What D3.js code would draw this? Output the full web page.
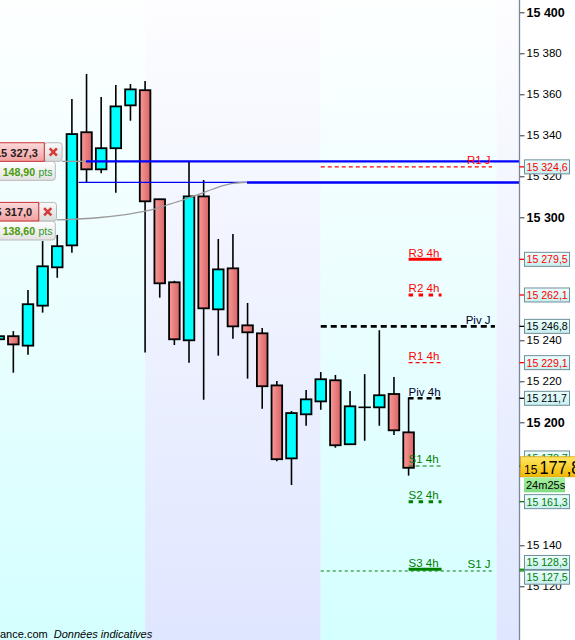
<!DOCTYPE html>
<html><head><meta charset="utf-8">
<script src="https://cdn.jsdelivr.net/npm/d3@7"></script>
<style>
body{margin:0;overflow:hidden;background:#fff}
svg{display:block}
text{font-family:"Liberation Sans",Arial,sans-serif}
</style>
</head><body>
<svg id="c" width="575" height="640"></svg>
<script>
// ---------------- data ----------------
const opens  = [15240.5,15242.0,15237.4,15256.9,15275.6,15286.3,15341.5,15323.4,15333.7,15354.6,15362.0,15308.8,15268.3,15240.0,15310.2,15255.1,15275.1,15247.3,15243.4,15218.0,15182.4,15203.9,15210.2,15220.5,15189.3,15207.3,15207.3,15213.8,15195.1];
const highs  = [15243.0,15244.5,15264.5,15288.4,15291.4,15357.7,15369.9,15358.7,15364.5,15365.0,15366.5,15309.0,15269.0,15327.5,15318.2,15289.4,15291.9,15258.2,15246.0,15220.1,15205.5,15215.8,15224.5,15223.1,15215.3,15223.5,15244.9,15222.1,15212.2];
const lows   = [15238.0,15224.2,15233.0,15253.5,15270.5,15282.7,15317.2,15321.5,15312.0,15347.1,15234.0,15260.8,15237.7,15229.1,15211.0,15232.5,15240.8,15221.3,15206.6,15181.0,15169.4,15198.3,15206.1,15187.6,15189.3,15191.0,15198.3,15193.8,15174.0];
const closes = [15242.0,15238.0,15257.6,15276.1,15285.9,15340.6,15323.4,15333.7,15354.1,15362.4,15307.8,15267.8,15240.5,15310.2,15255.6,15274.6,15246.8,15243.9,15217.6,15182.0,15204.5,15211.2,15221.0,15188.8,15207.8,15207.3,15213.2,15196.1,15177.8];

const sessionBreaks = [10, 22, 34];            // candle index where background alternates

const levelNames  = ["R1 J","Piv J","S1 J","R3 4h","R2 4h","R1 4h","Piv 4h","S1 4h","S2 4h","S3 4h"];
const levelValues = [15324.6,15246.8,15127.5,15279.5,15262.1,15229.1,15211.7,15178.7,15161.3,15128.3];

const tickValues = [15400,15380,15360,15340,15320,15300,15240,15220,15200,15140,15120];

const alertPrices = [15327.3, 15317.0];
const alertPts    = [148.90, 138.60];
const alertStartIdx = [5.96, 16.96];           // where the thick line starts

const curveIdx  = [3.96, 6.92, 9.17, 10.33, 11.5, 12.38, 13.75, 14.64, 15.80, 16.96];
const curveVals = [15298.7,15299.9,15301.95,15303.5,15306.0,15307.95,15311.4,15313.8,15316.3,15317.1];

const lastPrice = 15177.8;
const timerText = "24m25s";

// ---------------- setup ----------------
const W = 575, H = 640, axisX = 519.5;
const svg = d3.select("#c");
const x = d3.scaleLinear().domain([0, 28]).range([-1.3, 408.6]);
const y = d3.scaleLinear().domain([15400, 15120]).range([12.3, 586.3]);
const loc = d3.formatLocale({decimal: ",", thousands: " ", grouping: [3], currency: ["", ""]});
const fInt = loc.format(",d"), f1 = loc.format(",.1f"), f2 = loc.format(",.2f");

const defs = svg.append("defs");
function grad(id, stops, horiz) {
  const g = defs.append("linearGradient").attr("id", id)
    .attr("x1", 0).attr("y1", 0).attr("x2", horiz ? 1 : 0).attr("y2", horiz ? 0 : 1);
  stops.forEach((c, i) => g.append("stop").attr("offset", i / (stops.length - 1)).attr("stop-color", c));
}
grad("bgC", ["#fdffff", "#eafeff", "#d4ffff"]);
grad("bgL", ["#fdfdff", "#eef2ff", "#dfe6ff"]);
grad("redB", ["#f99a9a", "#d86464"], true);
grad("boxF", ["#eeffff", "#c8eeee"]);
grad("curF", ["#ffe866", "#f2b800"]);
grad("timF", ["#a8f0a0", "#80dc80"]);
grad("tagR", ["#fcdada", "#f2a0a0"]);
grad("tagG", ["#ffffff", "#e2e2e2"]);
grad("tagX", ["#fafafa", "#dadada"]);

// ---------------- background ----------------
const bx = [-50, ...sessionBreaks.map(x), axisX];
for (let i = 0; i < bx.length - 1; i++) {
  svg.append("rect").attr("x", bx[i]).attr("y", 0).attr("width", bx[i + 1] - bx[i]).attr("height", H)
    .attr("fill", i % 2 === 0 ? "url(#bgC)" : "url(#bgL)");
}

// ---------------- candles ----------------
const bw = 10.6;
const cg = svg.append("g");
const idx = d3.range(opens.length);
cg.selectAll("line.w").data(idx).join("line")
  .attr("x1", i => x(i)).attr("x2", i => x(i))
  .attr("y1", i => y(highs[i])).attr("y2", i => y(lows[i]))
  .attr("stroke", "#000").attr("stroke-width", 1.6);
cg.selectAll("rect.b").data(idx.filter(i => opens[i] !== closes[i])).join("rect")
  .attr("x", i => x(i) - bw / 2).attr("width", bw)
  .attr("y", i => y(Math.max(opens[i], closes[i])))
  .attr("height", i => Math.abs(y(opens[i]) - y(closes[i])))
  .attr("fill", i => closes[i] > opens[i] ? "#00ffff" : "url(#redB)")
  .attr("stroke", "#000").attr("stroke-width", 1.8);
cg.selectAll("line.d").data(idx.filter(i => opens[i] === closes[i])).join("line")
  .attr("x1", i => x(i) - bw / 2 - 0.9).attr("x2", i => x(i) + bw / 2 + 0.9)
  .attr("y1", i => y(opens[i])).attr("y2", i => y(opens[i]))
  .attr("stroke", "#000").attr("stroke-width", 1.6);

// ---------------- alert lines ----------------
const blue = "#0000ff";
svg.append("line").attr("x1", x(5.46)).attr("x2", x(alertStartIdx[1]))
  .attr("y1", y(alertPrices[1])).attr("y2", y(alertPrices[1]))
  .attr("stroke", blue).attr("stroke-width", 1.2);
alertPrices.forEach((p, k) => {
  svg.append("line").attr("x1", x(alertStartIdx[k])).attr("x2", axisX)
    .attr("y1", y(p)).attr("y2", y(p)).attr("stroke", blue).attr("stroke-width", 2.4);
});
const curveLine = d3.line().x(d => x(d[0])).y(d => y(d[1])).curve(d3.curveMonotoneX);
svg.append("path").attr("d", curveLine(curveIdx.map((c, i) => [c, curveVals[i]])))
  .attr("fill", "none").attr("stroke", "#9a9a9a").attr("stroke-width", 1.3);
svg.append("line").attr("x1", 62).attr("x2", x(alertStartIdx[0]))
  .attr("y1", y(alertPrices[0])).attr("y2", y(alertPrices[0]))
  .attr("stroke", "#9a9a9a").attr("stroke-width", 1.3);

// ---------------- pivot levels ----------------
const RED = "#ff0000", GRN = "#008000", PIV = "#000030";
const style = {
  "R1 J":  {c: RED, w: 1.1, d: "4,3", s: 22, e: 33.7, tc: RED},
  "Piv J": {c: "#000", w: 2.6, d: "6,4", s: 22, e: 33.9, tc: PIV},
  "S1 J":  {c: GRN, w: 1.1, d: "3,3", s: 22, e: 33.7, tc: GRN},
  "R3 4h": {c: RED, w: 3, d: null, s: 28, e: 30.25, tc: RED},
  "R2 4h": {c: RED, w: 3, d: "4.5,5.5", s: 28, e: 30.25, tc: RED},
  "R1 4h": {c: RED, w: 1.1, d: "4,3", s: 28, e: 30.25, tc: RED},
  "Piv 4h":{c: "#000", w: 2.6, d: "5,4", s: 28, e: 30.25, tc: PIV},
  "S1 4h": {c: GRN, w: 1.1, d: "4,3", s: 28, e: 30.25, tc: GRN},
  "S2 4h": {c: GRN, w: 3, d: "4.5,5.5", s: 28, e: 30.25, tc: GRN},
  "S3 4h": {c: GRN, w: 3, d: null, s: 28, e: 30.25, tc: GRN}
};
levelNames.forEach((n, i) => {
  const st = style[n], yy = y(levelValues[i]);
  svg.append("line").attr("x1", x(st.s)).attr("x2", x(st.e)).attr("y1", yy).attr("y2", yy)
    .attr("stroke", st.c).attr("stroke-width", st.w).attr("stroke-dasharray", st.d);
  const isJ = n.endsWith("J");
  svg.append("text").attr("x", isJ ? x(33.6) : x(st.s)).attr("y", yy - 2.6)
    .attr("text-anchor", isJ ? "end" : "start")
    .attr("font-size", 11.5).attr("fill", st.tc).text(n);
});

// ---------------- right axis ----------------
svg.append("rect").attr("x", axisX).attr("y", 0).attr("width", W - axisX).attr("height", H).attr("fill", "#fff");
const ax = svg.append("g").attr("transform", `translate(${axisX},0)`)
  .call(d3.axisRight(y).tickValues(tickValues).tickSize(5).tickPadding(2).tickFormat(fInt));
ax.select(".domain").remove();
ax.selectAll(".tick line").attr("stroke", "#333");
ax.selectAll(".tick text").attr("fill", "#000")
  .attr("font-family", '"Liberation Sans",Arial,sans-serif')
  .attr("font-size", d => d % 100 === 0 ? 12.5 : 11.5)
  .attr("font-weight", d => d % 100 === 0 ? "bold" : "normal");
svg.append("line").attr("x1", axisX).attr("x2", axisX).attr("y1", 0).attr("y2", H)
  .attr("stroke", "#7a8898").attr("stroke-width", 1.3);

// level boxes on the axis
const boxShift = {"S1 4h": -8, "S3 4h": -6.8, "S1 J": 6.3};
const boxOrder = ["R1 J","R3 4h","R2 4h","Piv J","R1 4h","Piv 4h","S1 4h","S2 4h","S3 4h","S1 J"];
boxOrder.forEach(n => {
  const i = levelNames.indexOf(n), v = levelValues[i], st = style[n];
  const yy = y(v), cy = yy + (boxShift[n] || 0);
  const col = n.startsWith("Piv") ? "#000" : st.c;
  svg.append("line").attr("x1", axisX).attr("x2", axisX + 4.5).attr("y1", yy).attr("y2", yy)
    .attr("stroke", col).attr("stroke-width", 1.3);
  svg.append("rect").attr("x", 524.5).attr("y", cy - 7).attr("width", 45).attr("height", 14)
    .attr("fill", "url(#boxF)").attr("stroke", "#6f8f9a").attr("stroke-width", 1);
  svg.append("text").attr("x", 526.5).attr("y", cy + 4).attr("font-size", 10.6)
    .attr("fill", col).text(f1(v));
});

// last price box
const ly = y(lastPrice);
svg.append("line").attr("x1", axisX).attr("x2", axisX + 4.5).attr("y1", ly - 1.5).attr("y2", ly - 1.5)
  .attr("stroke", GRN).attr("stroke-width", 1.3);
svg.append("rect").attr("x", 520.5).attr("y", ly - 11).attr("width", 60).attr("height", 20)
  .attr("fill", "url(#curF)").attr("stroke", "#d8a000").attr("stroke-width", 0.8);
const lp = f1(lastPrice).split(" ");
svg.append("text").attr("x", 524).attr("y", ly + 6).attr("font-size", 12).attr("fill", "#000").text(lp[0]);
svg.append("text").attr("x", 539.5).attr("y", ly + 6.5).attr("font-size", 19)
  .attr("transform", `translate(539.5,0) scale(0.86,1) translate(-539.5,0)`)
  .attr("fill", "#000").text(lp[1]);
svg.append("rect").attr("x", 524).attr("y", ly + 9.5).attr("width", 41).attr("height", 15)
  .attr("fill", "url(#timF)");
svg.append("text").attr("x", 526).attr("y", ly + 21).attr("font-size", 11).attr("fill", "#000").text(timerText);

// ---------------- alert tags ----------------
const tagAnchorY = [y(alertPrices[0]), 221];
const tagRedRight = [44.3, 38.7];
alertPrices.forEach((p, k) => {
  const ay = tagAnchorY[k], rr = tagRedRight[k];
  svg.append("rect").attr("x", -6).attr("y", ay).attr("width", 61.3).attr("height", 19).attr("rx", 3)
    .attr("fill", "url(#tagG)").attr("stroke", "#b8b8b8").attr("stroke-width", 1);
  svg.append("rect").attr("x", rr).attr("y", ay - 18.6).attr("width", 17.8).attr("height", 18.6).attr("rx", 3)
    .attr("fill", "url(#tagX)").attr("stroke", "#b8b8b8").attr("stroke-width", 1);
  svg.append("rect").attr("x", -6).attr("y", ay - 18.6).attr("width", rr + 6).attr("height", 18.6)
    .attr("fill", "url(#tagR)").attr("stroke", "#cc3434").attr("stroke-width", 1);
  svg.append("text").attr("x", rr - 6.5).attr("y", ay - 4.8).attr("text-anchor", "end")
    .attr("font-size", 11).attr("font-weight", "bold").attr("fill", "#2a1a1a").text(f1(p));
  const cx = rr + 9, cy = ay - 9.3, s = 3.6;
  svg.append("path").attr("d", `M${cx - s},${cy - s}L${cx + s},${cy + s}M${cx + s},${cy - s}L${cx - s},${cy + s}`)
    .attr("stroke", "#d43c3c").attr("stroke-width", 2.6);
  svg.append("text").attr("x", 2.7).attr("y", ay + 14.4).attr("font-size", 10.6).attr("font-weight", "bold")
    .attr("fill", "#4a9a08").text(f2(alertPts[k]));
  svg.append("text").attr("x", 38.5).attr("y", ay + 14.2).attr("font-size", 10.5)
    .attr("fill", "#2f9a2f").text("pts");
});

// ---------------- footer ----------------
const ft = svg.append("text").attr("x", 0).attr("y", 638).attr("font-size", 11).attr("fill", "#000");
ft.append("tspan").text("ance.com ");
ft.append("tspan").attr("dx", 3).attr("font-style", "italic").text("Données indicatives");
</script>
</body></html>
